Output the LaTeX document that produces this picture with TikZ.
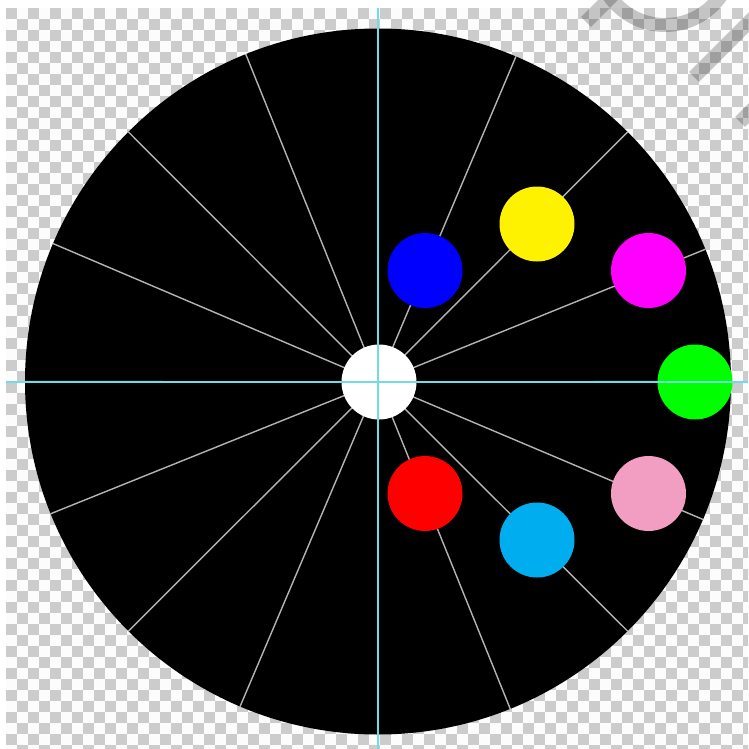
\documentclass[tikz,border=0pt]{standalone}
\usetikzlibrary{calc}
\definecolor{checkg}{HTML}{CCCCCC}
\definecolor{checkw}{HTML}{FCFCFC}
\definecolor{guide}{HTML}{72DCE4}
\definecolor{spokec}{HTML}{B4B4B4}
\definecolor{cyellow}{HTML}{FFF200}
\definecolor{cpink}{HTML}{F19EC2}
\definecolor{csky}{HTML}{00AEEF}
\definecolor{cmag}{HTML}{FF00FF}
\definecolor{cgreen}{HTML}{00FF00}
\definecolor{cblue}{HTML}{0000FF}
\definecolor{cred}{HTML}{FF0000}
\tikzset{
  dot/.style={circle, inner sep=0pt, minimum size=75pt, draw=none},
  spoke/.style={draw=spokec, line width=1.4pt},
  guideline/.style={draw=guide, line width=2pt},
  wm/.style={draw=black, draw opacity=0.22, line width=14pt}
}
\begin{document}
\begin{tikzpicture}[x=1pt,y=-1pt]
\useasboundingbox (0,0) rectangle (748,749);
\fill[white] (0,0) rectangle (748,749);
% checkerboard
\begin{scope}
\clip (6,8) rectangle (748,749);
\fill[checkw] (6,8) rectangle (748,749);
\foreach \j in {0,...,67}{
  \pgfmathtruncatemacro\off{mod(\j,2)}
  \foreach \i in {0,2,...,66}{
    \fill[checkg] ({6+(\i+\off)*11},{8+\j*11}) rectangle ++(11,11);
  }
}
\end{scope}
% disc
\node[circle, fill=black, inner sep=0pt, minimum size=706pt] (disc) at (378,381.5) {};
\coordinate (hubc) at (378,382);
\foreach \a in {0,22.5,...,337.5}{
  \draw[spoke] (hubc) -- (disc.\a);
}
% dots
\node[dot, fill=white] (hub) at (379,382) {};
\node[dot, fill=cblue] (dblue) at (425,270.5) {};
\node[dot, fill=cyellow] (dyellow) at (537,224) {};
\node[dot, fill=cmag] (dmagenta) at (648.5,270.5) {};
\node[dot, fill=cgreen] (dgreen) at (695,382) {};
\node[dot, fill=cpink] (dpink) at (648.5,493.5) {};
\node[dot, fill=csky] (dsky) at (537,540) {};
\node[dot, fill=cred] (dred) at (425,493.5) {};
% guide lines
\coordinate (gl) at (6,382);
\coordinate (gr) at (748,382);
\coordinate (gt) at (378,8);
\coordinate (gb) at (378,749);
\draw[guideline] (gl) -- (gr);
\draw[guideline] (gt) -- (gb);
% watermark fragments
\coordinate (w1a) at (586,22);
\coordinate (w1b) at (620,-12);
\draw[wm] (w1a) -- (w1b);
\coordinate (w2) at (665,-43);
\draw[wm] (w2) circle (68);
\coordinate (w3a) at (694,77);
\coordinate (w3b) at (770,1);
\draw[wm] (w3a) -- (w3b);
\coordinate (w4a) at (740,122);
\coordinate (w4b) at (775,87);
\draw[wm] (w4a) -- (w4b);
\end{tikzpicture}
\end{document}
